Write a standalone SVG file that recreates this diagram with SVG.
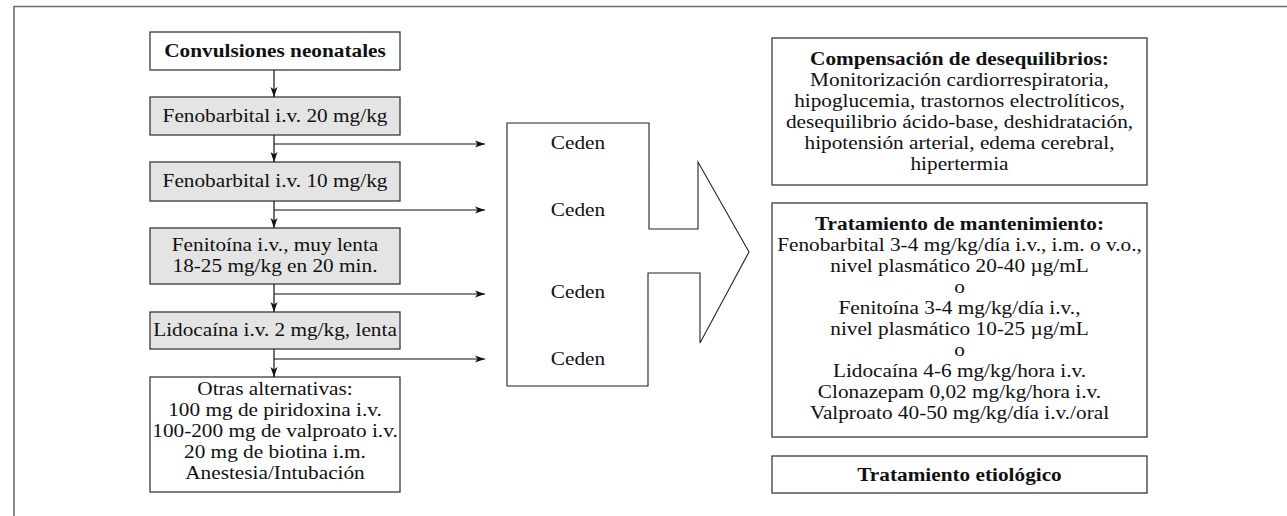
<svg xmlns="http://www.w3.org/2000/svg" width="1287" height="516" viewBox="0 0 1287 516">
  <defs>
    <style>
      .frame { fill: none; stroke: #6e6e6e; stroke-width: 1.6; }
      .box { fill: #ffffff; stroke: #3a3a3a; stroke-width: 1.3; }
      .step { fill: #e4e4e4; stroke: #3a3a3a; stroke-width: 1.3; }
      .shape { fill: #ffffff; stroke: #222222; stroke-width: 1.1; }
      .link { fill: none; stroke: #111111; stroke-width: 1.2; }
      text { font-family: "Liberation Serif", "Times New Roman", serif; font-size: 19px; fill: #111111; text-anchor: middle; }
      .b { font-weight: bold; }
    </style>
    <marker id="arrow" viewBox="0 0 10 8" refX="10" refY="4" markerWidth="10" markerHeight="8" markerUnits="userSpaceOnUse" orient="auto">
      <path d="M0,0.5 L10,4 L0,7.5 L2.5,4 Z" fill="#111111"/>
    </marker>
  </defs>

  <rect width="1287" height="516" fill="#ffffff"/>
  <!-- page frame: top and left rules only -->
  <path class="frame" d="M14,520 L14,6.5 L1290,6.5"/>

  <!-- left column: escalation steps (labels widened 12% about x=275) -->
  <g id="convulsiones">
    <rect class="box" x="150" y="32" width="250" height="38"/>
    <g transform="matrix(1.12 0 0 1 -33 0)">
      <text class="b" x="275" y="57">Convulsiones neonatales</text>
    </g>
  </g>
  <g id="fenobarbital-20">
    <rect class="step" x="150" y="97" width="250" height="38"/>
    <g transform="matrix(1.12 0 0 1 -33 0)">
      <text x="275" y="122">Fenobarbital i.v. 20 mg/kg</text>
    </g>
  </g>
  <g id="fenobarbital-10">
    <rect class="step" x="150" y="162" width="250" height="39"/>
    <g transform="matrix(1.12 0 0 1 -33 0)">
      <text x="275" y="187">Fenobarbital i.v. 10 mg/kg</text>
    </g>
  </g>
  <g id="fenitoina">
    <rect class="step" x="150" y="228" width="250" height="56"/>
    <g transform="matrix(1.12 0 0 1 -33 0)">
      <text x="275" y="251">Fenitoína i.v., muy lenta</text>
      <text x="275" y="272">18-25 mg/kg en 20 min.</text>
    </g>
  </g>
  <g id="lidocaina">
    <rect class="step" x="150" y="312" width="250" height="37"/>
    <g transform="matrix(1.12 0 0 1 -33 0)">
      <text x="275" y="336">Lidocaína i.v. 2 mg/kg, lenta</text>
    </g>
  </g>
  <g id="otras">
    <rect class="box" x="150" y="377" width="250" height="115"/>
    <g transform="matrix(1.12 0 0 1 -33 0)">
      <text x="275" y="395">Otras alternativas:</text>
      <text x="275" y="416">100 mg de piridoxina i.v.</text>
      <text x="275" y="437">100-200 mg de valproato i.v.</text>
      <text x="275" y="458">20 mg de biotina i.m.</text>
      <text x="275" y="479">Anestesia/Intubación</text>
    </g>
  </g>

  <!-- middle: block arrow collecting the "Ceden" outcomes -->
  <g id="ceden">
    <path class="shape" d="M507,123 L649,123 L649,229 L698,229 L698,162 L749,252 L700,343 L700,273 L648,273 L648,386 L507,386 Z"/>
    <g transform="matrix(1.12 0 0 1 -69.36 0)">
      <text x="578" y="149">Ceden</text>
      <text x="578" y="216">Ceden</text>
      <text x="578" y="298">Ceden</text>
      <text x="578" y="365">Ceden</text>
    </g>
  </g>

  <!-- right column: follow-up measures (labels widened 12% about x=959.5) -->
  <g id="compensacion">
    <rect class="box" x="772" y="38" width="375" height="147"/>
    <g transform="matrix(1.12 0 0 1 -115.14 0)">
      <text class="b" x="959.5" y="65">Compensación de desequilibrios:</text>
      <text x="959.5" y="86">Monitorización cardiorrespiratoria,</text>
      <text x="959.5" y="107">hipoglucemia, trastornos electrolíticos,</text>
      <text x="959.5" y="128">desequilibrio ácido-base, deshidratación,</text>
      <text x="959.5" y="149">hipotensión arterial, edema cerebral,</text>
      <text x="959.5" y="170">hipertermia</text>
    </g>
  </g>
  <g id="mantenimiento">
    <rect class="box" x="772" y="203" width="375" height="234"/>
    <g transform="matrix(1.12 0 0 1 -115.14 0)">
      <text class="b" x="959.5" y="230">Tratamiento de mantenimiento:</text>
      <text x="959.5" y="251">Fenobarbital 3-4 mg/kg/día i.v., i.m. o v.o.,</text>
      <text x="959.5" y="272">nivel plasmático 20-40 µg/mL</text>
      <text x="959.5" y="293">o</text>
      <text x="959.5" y="314">Fenitoína 3-4 mg/kg/día i.v.,</text>
      <text x="959.5" y="335">nivel plasmático 10-25 µg/mL</text>
      <text x="959.5" y="356">o</text>
      <text x="959.5" y="377">Lidocaína 4-6 mg/kg/hora i.v.</text>
      <text x="959.5" y="398">Clonazepam 0,02 mg/kg/hora i.v.</text>
      <text x="959.5" y="419">Valproato 40-50 mg/kg/día i.v./oral</text>
    </g>
  </g>
  <g id="etiologico">
    <rect class="box" x="772" y="456" width="375" height="37"/>
    <g transform="matrix(1.12 0 0 1 -115.14 0)">
      <text class="b" x="959.5" y="481">Tratamiento etiológico</text>
    </g>
  </g>

  <!-- connectors -->
  <g id="connectors">
    <path class="link" marker-end="url(#arrow)" d="M274,70 L274,97"/>
    <path class="link" marker-end="url(#arrow)" d="M274,135 L274,162"/>
    <path class="link" marker-end="url(#arrow)" d="M274,201 L274,228"/>
    <path class="link" marker-end="url(#arrow)" d="M274,284 L274,312"/>
    <path class="link" marker-end="url(#arrow)" d="M274,349 L274,377"/>
    <path class="link" marker-end="url(#arrow)" d="M274,144 L485,144"/>
    <path class="link" marker-end="url(#arrow)" d="M274,210 L485,210"/>
    <path class="link" marker-end="url(#arrow)" d="M274,294 L485,294"/>
    <path class="link" marker-end="url(#arrow)" d="M274,359 L485,359"/>
  </g>
</svg>
